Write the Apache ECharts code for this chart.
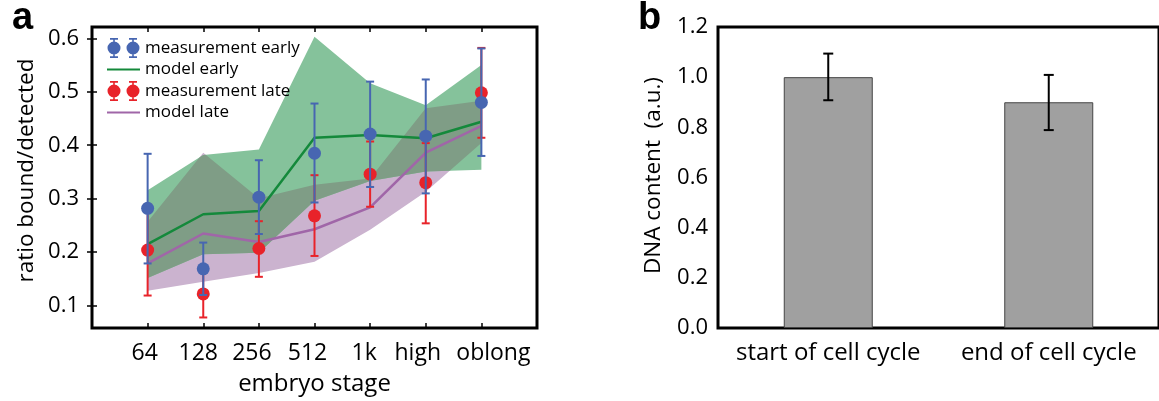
<!DOCTYPE html>
<html><head><meta charset="utf-8">
<script src="https://cdn.jsdelivr.net/npm/echarts@6/dist/echarts.min.js"></script>
<style>html,body{margin:0;padding:0;background:#fff}#c{width:1159px;height:401px}</style>
</head><body><div id="c"></div>
<script>
// ---- panel a data ----
const stages = ['64', '128', '256', '512', '1k', 'high', 'oblong'];
const yTicksA = [0.1, 0.2, 0.3, 0.4, 0.5, 0.6];
const earlyMean = [0.282, 0.169, 0.303, 0.385, 0.421, 0.417, 0.480];
const earlyLow  = [0.179, 0.120, 0.234, 0.293, 0.322, 0.310, 0.380];
const earlyHigh = [0.384, 0.218, 0.372, 0.478, 0.519, 0.523, 0.581];
const lateMean  = [0.204, 0.122, 0.207, 0.268, 0.346, 0.330, 0.498];
const lateLow   = [0.119, 0.078, 0.154, 0.193, 0.285, 0.254, 0.414];
const lateHigh  = [0.289, 0.166, 0.258, 0.344, 0.407, 0.404, 0.582];
const modelEarly     = [0.215, 0.271, 0.277, 0.414, 0.419, 0.413, 0.444];
const modelEarlyLow  = [0.152, 0.196, 0.199, 0.296, 0.333, 0.351, 0.354];
const modelEarlyHigh = [0.316, 0.382, 0.392, 0.603, 0.516, 0.475, 0.550];
const modelLate      = [0.179, 0.235, 0.219, 0.243, 0.284, 0.386, 0.436];
const modelLateLow   = [0.128, 0.145, 0.161, 0.182, 0.242, 0.313, 0.404];
const modelLateHigh  = [0.257, 0.386, 0.301, 0.326, 0.338, 0.469, 0.483];
// ---- panel b data ----
const cycleLabels = ['start of cell cycle', 'end of cell cycle'];
const dnaMean = [1.0, 0.9];
const dnaLow  = [0.908, 0.789];
const dnaHigh = [1.094, 1.009];

// ---- layout / style ----
const FONT = 'Open Sans';
const BLUE = '#4766b1', RED = '#e8232a', GREEN = '#14893b', PURPLE = '#a066a8';
const labelShift = [-3, -5, -7, -7, -6, -8, 12]; // horizontal nudge of stage labels (px)
const xPos = stages.map((s, i) => i + 1);
const pts = arr => arr.map((v, i) => [xPos[i], v]);

function bandPoints(api, low, high) {
  const up = high.map((v, i) => api.coord([xPos[i], v]));
  const dn = low.map((v, i) => api.coord([xPos[i], v])).reverse();
  return up.concat(dn);
}
function errSeries(xi, yi, data, color, z, capW) {
  return {
    type: 'custom', xAxisIndex: xi, yAxisIndex: yi, silent: true, z: z,
    data: data,
    renderItem(params, api) {
      const x = api.value(0);
      const a = api.coord([x, api.value(1)]);
      const b = api.coord([x, api.value(2)]);
      const h = capW / 2;
      const st = { stroke: color, lineWidth: 2 };
      return { type: 'group', children: [
        { type: 'line', shape: { x1: a[0], y1: a[1], x2: b[0], y2: b[1] }, style: st },
        { type: 'line', shape: { x1: a[0] - h, y1: a[1], x2: a[0] + h, y2: a[1] }, style: st },
        { type: 'line', shape: { x1: b[0] - h, y1: b[1], x2: b[0] + h, y2: b[1] }, style: st }
      ]};
    }
  };
}
const dotsIcon = 'path://M0.5,10a6.5,6.5 0 1,1 13,0a6.5,6.5 0 1,1 -13,0Z M6.2,0h1.6v20h-1.6Z M3,0h8v1.8h-8Z M3,18.2h8v1.8h-8Z' +
  ' M19.5,10a6.5,6.5 0 1,1 13,0a6.5,6.5 0 1,1 -13,0Z M25.2,0h1.6v20h-1.6Z M22,0h8v1.8h-8Z M22,18.2h8v1.8h-8Z';

const txt = (size) => ({ color: '#000', fontSize: size, fontFamily: FONT });
const tickStyle = { color: '#000', width: 1.5 };
const stageRich = {};
labelShift.forEach((d, i) => {
  stageRich['s' + i] = { ...txt(23), padding: d > 0 ? [0, 0, 0, 2 * d] : [0, -2 * d, 0, 0] };
});

const chart = echarts.init(document.getElementById('c'));
chart.setOption({
  animation: false,
  backgroundColor: '#fff',
  textStyle: { fontFamily: FONT },
  grid: [
    { left: 92, top: 27, width: 445, height: 301, show: true, borderColor: '#000', borderWidth: 3, backgroundColor: 'transparent' },
    { left: 718, top: 27, width: 444, height: 301, show: true, borderColor: '#000', borderWidth: 3, backgroundColor: 'transparent' }
  ],
  legend: {
    orient: 'vertical', left: 106, top: 38, padding: 0, itemGap: 3, itemWidth: 33, itemHeight: 20,
    selectedMode: false, textStyle: txt(17),
    data: [
      { name: 'measurement early', icon: dotsIcon },
      { name: 'model early', itemStyle: { opacity: 0 } },
      { name: 'measurement late', icon: dotsIcon },
      { name: 'model late', itemStyle: { opacity: 0 } }
    ]
  },
  graphic: [
    { type: 'text', left: 12, top: 0, style: { text: 'a', font: 'bold 38px "Liberation Sans"', fill: '#000' } },
    { type: 'text', left: 638, top: 0, style: { text: 'b', font: 'bold 38px "Liberation Sans"', fill: '#000' } }
  ],
  xAxis: [
    { gridIndex: 0, type: 'value', min: 0, max: 8, position: 'bottom',
      axisLine: { show: false }, splitLine: { show: false },
      axisTick: { inside: true, length: 5, lineStyle: tickStyle, customValues: xPos },
      axisLabel: { customValues: xPos, formatter: v => '{s' + (v - 1) + '|' + stages[v - 1] + '}',
        rich: stageRich, margin: 14, showMinLabel: true, showMaxLabel: true, hideOverlap: false, ...txt(23) },
      name: 'embryo stage', nameLocation: 'middle', nameGap: 44, nameTextStyle: txt(24) },
    { gridIndex: 0, type: 'value', min: 0, max: 8, position: 'top',
      axisLine: { show: false }, splitLine: { show: false }, axisLabel: { show: false },
      axisTick: { inside: true, length: 5, lineStyle: tickStyle, customValues: xPos } },
    { gridIndex: 1, type: 'category', data: cycleLabels, position: 'bottom',
      axisLine: { show: false }, splitLine: { show: false },
      axisTick: { inside: true, length: 5, alignWithLabel: true, lineStyle: tickStyle },
      axisLabel: { interval: 0, margin: 13, hideOverlap: false, ...txt(24) } },
    { gridIndex: 1, type: 'category', data: cycleLabels, position: 'top',
      axisLine: { show: false }, splitLine: { show: false }, axisLabel: { show: false },
      axisTick: { inside: true, length: 5, alignWithLabel: true, lineStyle: tickStyle } }
  ],
  yAxis: [
    { gridIndex: 0, type: 'value', min: 0.0583, max: 0.6211, position: 'left',
      axisLine: { show: false }, splitLine: { show: false },
      axisTick: { inside: true, length: 5, lineStyle: tickStyle, customValues: yTicksA },
      axisLabel: { customValues: yTicksA, formatter: v => v.toFixed(1), margin: 13, ...txt(22) },
      name: 'ratio bound/detected', nameLocation: 'middle', nameRotate: 90, nameGap: 54,
      nameTextStyle: { ...txt(22.5), padding: [0, 0, 0, 14] } },
    { gridIndex: 0, type: 'value', min: 0.0583, max: 0.6211, position: 'right',
      axisLine: { show: false }, splitLine: { show: false }, axisLabel: { show: false },
      axisTick: { inside: true, length: 5, lineStyle: tickStyle, customValues: yTicksA } },
    { gridIndex: 1, type: 'value', min: 0, max: 1.2, interval: 0.2, position: 'left',
      axisLine: { show: false }, splitLine: { show: false }, axisTick: { show: false },
      axisLabel: { formatter: v => v.toFixed(1), margin: 10, ...txt(22) },
      name: 'DNA content  (a.u.)', nameLocation: 'middle', nameRotate: 90, nameGap: 53,
      nameTextStyle: { ...txt(22.5), padding: [0, 0, 0, 4] } },
    { gridIndex: 1, type: 'value', min: 0, max: 1.2, interval: 0.2, position: 'right',
      axisLine: { show: false }, splitLine: { show: false }, axisLabel: { show: false },
      axisTick: { inside: true, length: 5, lineStyle: tickStyle } }
  ],
  series: [
    { type: 'custom', name: 'bands', xAxisIndex: 0, yAxisIndex: 0, silent: true, z: 1,
      data: [[xPos[0], modelEarly[0]]],
      renderItem(params, api) {
        const g = bandPoints(api, modelEarlyLow, modelEarlyHigh);
        const p = bandPoints(api, modelLateLow, modelLateHigh);
        return { type: 'group', children: [
          { type: 'polygon', shape: { points: p }, style: { fill: '#cbb3cf' } },
          { type: 'polygon', shape: { points: g }, style: { fill: '#85c29b' } },
          { type: 'polygon', shape: { points: g }, style: { fill: '#7f9d86' },
            clipPath: { type: 'polygon', shape: { points: p } } }
        ]};
      } },
    { type: 'line', name: 'model early', xAxisIndex: 0, yAxisIndex: 0, z: 2, symbol: 'none',
      data: pts(modelEarly), lineStyle: { color: GREEN, width: 2.5 }, itemStyle: { color: GREEN } },
    { type: 'line', name: 'model late', xAxisIndex: 0, yAxisIndex: 0, z: 2, symbol: 'none',
      data: pts(modelLate), lineStyle: { color: PURPLE, width: 2.5 }, itemStyle: { color: PURPLE } },
    errSeries(0, 0, lateLow.map((v, i) => [xPos[i], v, lateHigh[i]]), RED, 3, 8),
    { type: 'scatter', name: 'measurement late', xAxisIndex: 0, yAxisIndex: 0, z: 4,
      symbolSize: 13, data: pts(lateMean), itemStyle: { color: RED, opacity: 1 } },
    errSeries(0, 0, earlyLow.map((v, i) => [xPos[i], v, earlyHigh[i]]), BLUE, 5, 8),
    { type: 'scatter', name: 'measurement early', xAxisIndex: 0, yAxisIndex: 0, z: 6,
      symbolSize: 13, data: pts(earlyMean), itemStyle: { color: BLUE, opacity: 1 } },
    // panel b
    { type: 'bar', name: 'DNA', xAxisIndex: 2, yAxisIndex: 2, barWidth: 89, z: 2,
      data: dnaMean, itemStyle: { color: '#a0a0a0', borderColor: '#444', borderWidth: 1 } },
    errSeries(2, 2, dnaLow.map((v, i) => [i, v, dnaHigh[i]]), '#000', 5, 10)
  ]
});
</script></body></html>
